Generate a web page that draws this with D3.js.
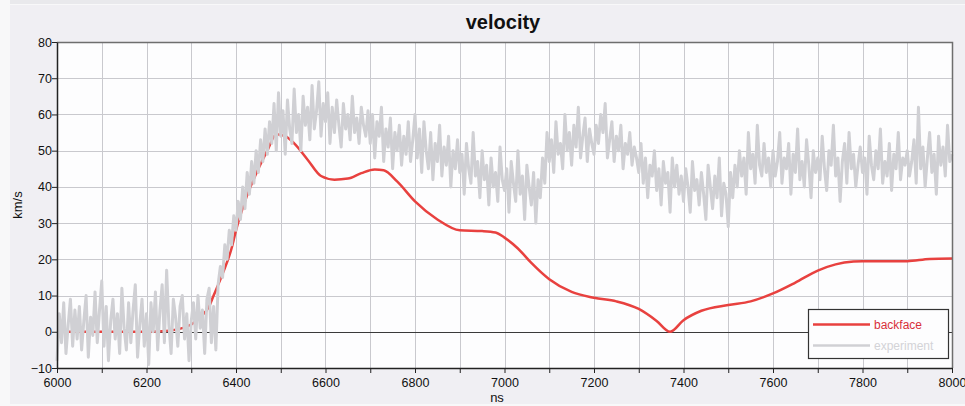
<!DOCTYPE html>
<html>
<head>
<meta charset="utf-8">
<script src="https://cdn.jsdelivr.net/npm/d3@7/dist/d3.min.js"></script>
<style>
  html, body { margin: 0; padding: 0; background: #f7f7f8; }
  svg { display: block; font-family: "Liberation Sans", Arial, sans-serif; }
</style>
</head>
<body>
<svg id="chart" width="965" height="406"></svg>
<script>
// ---- data ----
const title = "velocity";
const xLabel = "ns";
const yLabel = "km/s";
const xTicks = [6000, 6200, 6400, 6600, 6800, 7000, 7200, 7400, 7600, 7800, 8000];
const yTicks = [-10, 0, 10, 20, 30, 40, 50, 60, 70, 80];
const seriesNames = ["backface", "experiment"];

// simulated backface velocity (smooth)
const backfaceTime = [6000, 6100, 6200, 6250, 6280, 6300, 6320, 6340, 6350, 6370, 6390, 6400, 6420,
  6450, 6470, 6490, 6510, 6530, 6560, 6590, 6620, 6650, 6680, 6710, 6730, 6760, 6800, 6850, 6900,
  6950, 6980, 7000, 7030, 7060, 7100, 7150, 7200, 7250, 7300, 7340, 7370, 7400, 7440, 7500, 7550,
  7600, 7650, 7700, 7740, 7780, 7800, 7900, 7950, 8000];
const backfaceVel = [0, 0, 0, 0.3, 1, 2, 4, 7, 10, 16, 23, 28, 36,
  45, 50, 54.5, 54, 52, 47.5, 43, 42, 42.3, 43.8, 44.8, 44.6, 41.5, 36, 31, 28,
  27.8, 27.4, 26, 23, 19, 14.5, 11, 9.4, 8.4, 6.3, 3, 0, 3.2, 5.8, 7.4, 8.4,
  10.6, 13.6, 16.9, 18.6, 19.4, 19.5, 19.5, 20.1, 20.2];

// measured velocity, one sample every 5 ns from 6000 to 8000
const experimentStart = 6000;
const experimentStep = 5;
const experimentVel = [
  -8, 5, -3, 8, -6, 2, 9, -4, 6, -2, 7, -5, 3, 10, -7, 4, -1, 11, -3, 6,
  14, -4, 7, -8, 3, 9, -2, 5, -6, 12, 1, -5, 8, -3, 6, 13, -7, 2, 9, -4,
  5, -9, 8, 0, 11, -5, 6, 13, -3, 17, 2, -6, 9, 4, -4, 7, 10, -2, 5, -8,
  3, 8, -2, 10, 1, 6, -6, 9, 12, -3, 7, -5, 13, 18, 15, 24, 20, 28, 24, 32,
  28, 36, 31, 40, 34, 44, 38, 47, 41, 50, 44, 53, 47, 56, 49, 58, 52, 63, 50, 66,
  54, 61, 49, 64, 56, 52, 67, 55, 60, 50, 65, 57, 62, 53, 68, 56, 61, 69, 54, 63,
  58, 66, 52, 62, 55, 64, 57, 51, 63, 56, 60, 53, 65, 55, 59, 52, 62, 57, 54, 61,
  52, 60, 48, 58, 54, 62, 47, 56, 51, 59, 45, 55, 50, 57, 46, 54, 49, 58, 47, 53,
  60, 48, 56, 44, 58, 50, 45, 55, 42, 52, 47, 57, 43, 51, 46, 54, 40, 50, 45, 53,
  44, 49, 38, 52, 45, 41, 55, 43, 47, 37, 50, 42, 46, 35, 48, 40, 44, 36, 51, 42,
  39, 45, 33, 47, 41, 36, 50, 38, 43, 31, 46, 40, 35, 44, 30, 42, 37, 48, 41, 55,
  47, 53, 44, 58, 49, 52, 45, 60, 50, 55, 46, 57, 51, 62, 48, 54, 59, 47, 56, 52,
  49, 57, 52, 60, 55, 63, 48, 53, 58, 47, 54, 50, 57, 45, 52, 49, 55, 46, 51, 48,
  44, 52, 41, 48, 37, 46, 43, 50, 39, 45, 35, 47, 41, 44, 33, 48, 40, 46, 38, 43,
  36, 45, 40, 33, 47, 39, 42, 35, 44, 38, 31, 46, 40, 34, 43, 37, 48, 32, 41, 38,
  29, 44, 37, 46, 40, 50, 43, 48, 38, 55, 45, 49, 41, 57, 46, 43, 52, 44, 48, 40,
  50, 43, 47, 55, 41, 48, 45, 52, 38, 49, 44, 56, 42, 47, 40, 53, 46, 37, 50, 44,
  48, 42, 54, 45, 39, 50, 46, 57, 43, 48, 36, 47, 52, 41, 55, 45, 49, 40, 46, 51,
  44, 48, 38, 54, 46, 42, 50, 45, 56, 41, 47, 43, 52, 39, 49, 45, 55, 42, 48, 46,
  50, 43, 47, 53, 41, 62, 45, 51, 40, 48, 55, 44, 49, 38, 54, 46, 51, 43, 57, 47,
  49
];

// ---- layout ----
const W = 965, H = 406;
const plot = { left: 57, top: 42, right: 952, bottom: 368 };
const colors = { backface: "#e8413f", experiment: "#d0d0d4" };

const svg = d3.select("#chart");

// panel background
svg.append("rect").attr("x", 0).attr("y", 0).attr("width", W).attr("height", H).attr("fill", "#f8f8f9");
svg.append("rect").attr("x", 10).attr("y", 0).attr("width", W - 10).attr("height", 4).attr("fill", "#e9e9ec");
svg.append("rect").attr("x", 10).attr("y", 5).attr("width", W - 10).attr("height", 399).attr("fill", "#f0eff3");

const x = d3.scaleLinear().domain([6000, 8000]).range([plot.left, plot.right]);
const y = d3.scaleLinear().domain([-10, 80]).range([plot.bottom, plot.top]);

// plot area
svg.append("rect")
  .attr("x", plot.left).attr("y", plot.top)
  .attr("width", plot.right - plot.left).attr("height", plot.bottom - plot.top)
  .attr("fill", "#fdfdfe");

// grid: every 100 ns and every 10 km/s
const gridX = d3.range(6100, 8000, 100);
const gridY = yTicks.filter(v => v !== -10 && v !== 80 && v !== 0);
const grid = svg.append("g").attr("stroke", "#c9c9ce").attr("stroke-width", 1);
grid.selectAll("line.gx").data(gridX).join("line")
  .attr("x1", d => Math.round(x(d)) + 0.5).attr("x2", d => Math.round(x(d)) + 0.5)
  .attr("y1", plot.top).attr("y2", plot.bottom);
grid.selectAll("line.gy").data(gridY).join("line")
  .attr("y1", d => Math.round(y(d)) + 0.5).attr("y2", d => Math.round(y(d)) + 0.5)
  .attr("x1", plot.left).attr("x2", plot.right);

// zero reference line
svg.append("line")
  .attr("x1", plot.left).attr("x2", plot.right)
  .attr("y1", Math.round(y(0)) + 0.5).attr("y2", Math.round(y(0)) + 0.5)
  .attr("stroke", "#3a3a3a").attr("stroke-width", 1);

// series
const backfaceData = backfaceTime.map((t, i) => [t, backfaceVel[i]]);
const experimentData = experimentVel.map((v, i) => [experimentStart + i * experimentStep, v]);

const smoothLine = d3.line().x(d => x(d[0])).y(d => y(d[1])).curve(d3.curveMonotoneX);
const rawLine = d3.line().x(d => x(d[0])).y(d => y(d[1]));

svg.append("path").datum(backfaceData)
  .attr("d", smoothLine).attr("fill", "none")
  .attr("stroke", colors.backface).attr("stroke-width", 2.5).attr("stroke-linejoin", "round");

svg.append("path").datum(experimentData)
  .attr("d", rawLine).attr("fill", "none")
  .attr("stroke", colors.experiment).attr("stroke-width", 3).attr("stroke-linejoin", "round");

// frame: top/right border, left/bottom axes
svg.append("path")
  .attr("d", `M${plot.left},${plot.top + 0.5}H${plot.right + 0.5}V${plot.bottom}`)
  .attr("fill", "none").attr("stroke", "#6e6e6e").attr("stroke-width", 1.5);

const xAxis = d3.axisBottom(x).tickValues(d3.range(6000, 8001, 100))
  .tickFormat(d => xTicks.includes(d) ? d : "").tickSize(5).tickSizeOuter(0);
const gx = svg.append("g").attr("transform", `translate(0,${plot.bottom})`).call(xAxis);
gx.select(".domain").attr("stroke", "#222").attr("stroke-width", 1.5);
gx.selectAll(".tick line").attr("stroke", "#222");
gx.selectAll(".tick text").attr("font-size", 12.5).attr("fill", "#111")
  .attr("font-family", "Liberation Sans, Arial, sans-serif").attr("dy", "0.9em");

const yAxis = d3.axisLeft(y).tickValues(yTicks).tickSize(5).tickSizeOuter(0);
const gy = svg.append("g").attr("transform", `translate(${plot.left},0)`).call(yAxis);
gy.select(".domain").attr("stroke", "#222").attr("stroke-width", 1.5);
gy.selectAll(".tick line").attr("stroke", "#222");
gy.selectAll(".tick text").attr("font-size", 12.5).attr("fill", "#111")
  .attr("font-family", "Liberation Sans, Arial, sans-serif").attr("x", -5);

// titles
svg.append("text").attr("x", 503).attr("y", 29).attr("text-anchor", "middle")
  .attr("font-size", 20).attr("font-weight", "bold").attr("fill", "#111").text(title);
svg.append("text").attr("x", 497).attr("y", 402).attr("text-anchor", "middle")
  .attr("font-size", 13).attr("fill", "#111").text(xLabel);
svg.append("text").attr("transform", "translate(22,205) rotate(-90)").attr("text-anchor", "middle")
  .attr("font-size", 13).attr("fill", "#111").text(yLabel);

// legend
const legend = svg.append("g").attr("transform", "translate(808,309)");
legend.append("rect").attr("x", 0.5).attr("y", 0.5).attr("width", 140).attr("height", 49)
  .attr("fill", "#fdfdfe").attr("stroke", "#333").attr("stroke-width", 1.2);
const legendText = { backface: "#d8303a", experiment: "#d3d3d7" };
seriesNames.forEach((name, i) => {
  const cy = 15.5 + i * 21;
  legend.append("line").attr("x1", 5).attr("x2", 62).attr("y1", cy).attr("y2", cy)
    .attr("stroke", colors[name]).attr("stroke-width", 2.5);
  legend.append("text").attr("x", 66).attr("y", cy + 4.5).attr("font-size", 12)
    .attr("fill", legendText[name]).text(name);
});
</script>
</body>
</html>
